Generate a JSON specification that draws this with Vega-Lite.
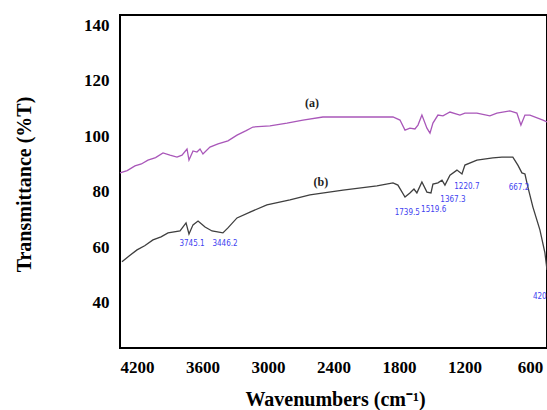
{
  "$schema": "https://vega.github.io/schema/vega-lite/v6.json",
  "width": 427,
  "height": 333,
  "autosize": "none",
  "padding": {"left": 120, "top": 15, "right": 0, "bottom": 62},
  "background": "white",
  "config": {
    "view": {"stroke": "black", "strokeWidth": 2},
    "axis": {"grid": false, "ticks": false, "domain": false, "labelFont": "Liberation Serif", "labelFontWeight": "bold", "labelFontSize": 17, "labelColor": "black", "titleFont": "Liberation Serif", "titleFontWeight": "bold", "titleFontSize": 20, "titleColor": "black"}
  },
  "datasets": {
    "spectra": [
      {"wn": 4356, "t": 86.8, "s": "a"}, {"wn": 4290, "t": 87.6, "s": "a"}, {"wn": 4219, "t": 89.3, "s": "a"}, {"wn": 4160, "t": 90.0, "s": "a"},
      {"wn": 4100, "t": 91.4, "s": "a"}, {"wn": 4030, "t": 92.3, "s": "a"}, {"wn": 3962, "t": 94.0, "s": "a"}, {"wn": 3898, "t": 93.2, "s": "a"},
      {"wn": 3834, "t": 92.5, "s": "a"}, {"wn": 3788, "t": 93.2, "s": "a"}, {"wn": 3742, "t": 95.4, "s": "a"}, {"wn": 3724, "t": 91.4, "s": "a"},
      {"wn": 3687, "t": 94.7, "s": "a"}, {"wn": 3651, "t": 94.3, "s": "a"}, {"wn": 3623, "t": 95.4, "s": "a"}, {"wn": 3596, "t": 93.6, "s": "a"},
      {"wn": 3532, "t": 96.1, "s": "a"}, {"wn": 3458, "t": 97.2, "s": "a"}, {"wn": 3367, "t": 98.3, "s": "a"}, {"wn": 3284, "t": 100.4, "s": "a"},
      {"wn": 3200, "t": 102.0, "s": "a"}, {"wn": 3138, "t": 103.3, "s": "a"}, {"wn": 2982, "t": 103.7, "s": "a"}, {"wn": 2826, "t": 104.7, "s": "a"},
      {"wn": 2680, "t": 105.8, "s": "a"}, {"wn": 2497, "t": 106.9, "s": "a"}, {"wn": 2313, "t": 106.9, "s": "a"}, {"wn": 2002, "t": 106.9, "s": "a"},
      {"wn": 1855, "t": 106.9, "s": "a"}, {"wn": 1791, "t": 105.8, "s": "a"}, {"wn": 1745, "t": 102.2, "s": "a"}, {"wn": 1700, "t": 102.9, "s": "a"},
      {"wn": 1654, "t": 102.6, "s": "a"}, {"wn": 1626, "t": 104.0, "s": "a"}, {"wn": 1590, "t": 107.6, "s": "a"}, {"wn": 1544, "t": 102.9, "s": "a"},
      {"wn": 1516, "t": 101.1, "s": "a"}, {"wn": 1489, "t": 104.7, "s": "a"}, {"wn": 1443, "t": 107.6, "s": "a"}, {"wn": 1397, "t": 107.3, "s": "a"},
      {"wn": 1333, "t": 108.7, "s": "a"}, {"wn": 1242, "t": 107.6, "s": "a"}, {"wn": 1196, "t": 108.3, "s": "a"}, {"wn": 1086, "t": 108.3, "s": "a"},
      {"wn": 967, "t": 107.3, "s": "a"}, {"wn": 903, "t": 108.3, "s": "a"}, {"wn": 784, "t": 109.1, "s": "a"}, {"wn": 720, "t": 108.3, "s": "a"},
      {"wn": 683, "t": 104.0, "s": "a"}, {"wn": 646, "t": 107.6, "s": "a"}, {"wn": 600, "t": 107.6, "s": "a"}, {"wn": 481, "t": 105.8, "s": "a"},
      {"wn": 444, "t": 105.1, "s": "a"},
      {"wn": 4338, "t": 54.8, "s": "b"}, {"wn": 4270, "t": 57.0, "s": "b"}, {"wn": 4200, "t": 59.1, "s": "b"}, {"wn": 4130, "t": 60.6, "s": "b"},
      {"wn": 4054, "t": 62.7, "s": "b"}, {"wn": 3980, "t": 63.8, "s": "b"}, {"wn": 3916, "t": 65.2, "s": "b"}, {"wn": 3806, "t": 65.9, "s": "b"},
      {"wn": 3751, "t": 68.8, "s": "b"}, {"wn": 3724, "t": 64.8, "s": "b"}, {"wn": 3687, "t": 68.1, "s": "b"}, {"wn": 3641, "t": 69.5, "s": "b"},
      {"wn": 3577, "t": 67.3, "s": "b"}, {"wn": 3513, "t": 65.9, "s": "b"}, {"wn": 3413, "t": 65.2, "s": "b"}, {"wn": 3367, "t": 67.0, "s": "b"},
      {"wn": 3284, "t": 70.6, "s": "b"}, {"wn": 3165, "t": 72.7, "s": "b"}, {"wn": 3010, "t": 75.3, "s": "b"}, {"wn": 2799, "t": 77.1, "s": "b"},
      {"wn": 2616, "t": 78.9, "s": "b"}, {"wn": 2313, "t": 80.6, "s": "b"}, {"wn": 2002, "t": 82.1, "s": "b"}, {"wn": 1855, "t": 83.2, "s": "b"},
      {"wn": 1810, "t": 82.4, "s": "b"}, {"wn": 1745, "t": 78.1, "s": "b"}, {"wn": 1700, "t": 79.6, "s": "b"}, {"wn": 1663, "t": 81.0, "s": "b"},
      {"wn": 1636, "t": 79.6, "s": "b"}, {"wn": 1590, "t": 83.5, "s": "b"}, {"wn": 1544, "t": 79.9, "s": "b"}, {"wn": 1507, "t": 79.6, "s": "b"},
      {"wn": 1489, "t": 82.8, "s": "b"}, {"wn": 1443, "t": 83.2, "s": "b"}, {"wn": 1406, "t": 84.2, "s": "b"}, {"wn": 1379, "t": 82.4, "s": "b"},
      {"wn": 1333, "t": 86.0, "s": "b"}, {"wn": 1269, "t": 87.8, "s": "b"}, {"wn": 1223, "t": 86.4, "s": "b"}, {"wn": 1196, "t": 89.6, "s": "b"},
      {"wn": 1086, "t": 91.4, "s": "b"}, {"wn": 940, "t": 92.2, "s": "b"}, {"wn": 857, "t": 92.5, "s": "b"}, {"wn": 784, "t": 92.5, "s": "b"},
      {"wn": 757, "t": 92.5, "s": "b"}, {"wn": 711, "t": 89.6, "s": "b"}, {"wn": 674, "t": 86.8, "s": "b"}, {"wn": 646, "t": 86.4, "s": "b"},
      {"wn": 619, "t": 81.7, "s": "b"}, {"wn": 573, "t": 74.5, "s": "b"}, {"wn": 509, "t": 66.3, "s": "b"}, {"wn": 463, "t": 58.0, "s": "b"},
      {"wn": 444, "t": 51.9, "s": "b"}
    ],
    "peaks": [
      {"wn": 3696, "t": 61.2, "label": "3745.1"},
      {"wn": 3394, "t": 61.2, "label": "3446.2"},
      {"wn": 1724, "t": 72.4, "label": "1739.5"},
      {"wn": 1482, "t": 73.5, "label": "1519.6"},
      {"wn": 1306, "t": 77.1, "label": "1367.3"},
      {"wn": 1178, "t": 81.7, "label": "1220.7"},
      {"wn": 701, "t": 81.4, "label": "667.2"}
    ],
    "edge": [
      {"wn": 573, "t": 42.2, "label": "420.1"}
    ],
    "names": [
      {"wn": 2597, "t": 111.9, "label": "(a)"},
      {"wn": 2515, "t": 83.5, "label": "(b)"}
    ]
  },
  "layer": [
    {
      "data": {"name": "spectra"},
      "mark": {"type": "line", "strokeWidth": 1.3, "interpolate": "linear"},
      "encoding": {
        "x": {"field": "wn", "type": "quantitative", "scale": {"domain": [444, 4356], "reverse": true, "nice": false, "zero": false},
              "axis": {"values": [600, 1200, 1800, 2400, 3000, 3600, 4200], "format": "d", "labelPadding": 11, "title": "Wavenumbers (cm⁻¹)", "titleX": 215, "titleY": 57, "titleBaseline": "alphabetic", "titleAnchor": null}},
        "y": {"field": "t", "type": "quantitative", "scale": {"domain": [23.8, 143.6], "nice": false, "zero": false},
              "axis": {"values": [40, 60, 80, 100, 120, 140], "labelPadding": 11, "title": "Transmittance (%T)", "titleX": -96, "titleY": 169, "titleBaseline": "middle"}},
        "color": {"field": "s", "type": "nominal", "scale": {"domain": ["a", "b"], "range": ["#a957b9", "#3f3f3f"]}, "legend": null},
        "order": {"field": "wn", "type": "quantitative"}
      }
    },
    {
      "data": {"name": "peaks"},
      "mark": {"type": "text", "font": "Liberation Sans Narrow, DejaVu Sans Condensed, Arial Narrow, sans-serif", "fontSize": 8, "color": "#4242f0", "align": "center", "baseline": "middle"},
      "encoding": {
        "x": {"field": "wn", "type": "quantitative"},
        "y": {"field": "t", "type": "quantitative"},
        "text": {"field": "label"}
      }
    },
    {
      "data": {"name": "edge"},
      "mark": {"type": "text", "font": "Liberation Sans Narrow, DejaVu Sans Condensed, Arial Narrow, sans-serif", "fontSize": 8, "color": "#4242f0", "align": "left", "baseline": "middle"},
      "encoding": {
        "x": {"field": "wn", "type": "quantitative"},
        "y": {"field": "t", "type": "quantitative"},
        "text": {"field": "label"}
      }
    },
    {
      "data": {"name": "names"},
      "mark": {"type": "text", "font": "Liberation Serif", "fontWeight": "bold", "fontSize": 12, "color": "#222222", "align": "center", "baseline": "middle"},
      "encoding": {
        "x": {"field": "wn", "type": "quantitative"},
        "y": {"field": "t", "type": "quantitative"},
        "text": {"field": "label"}
      }
    }
  ]
}
